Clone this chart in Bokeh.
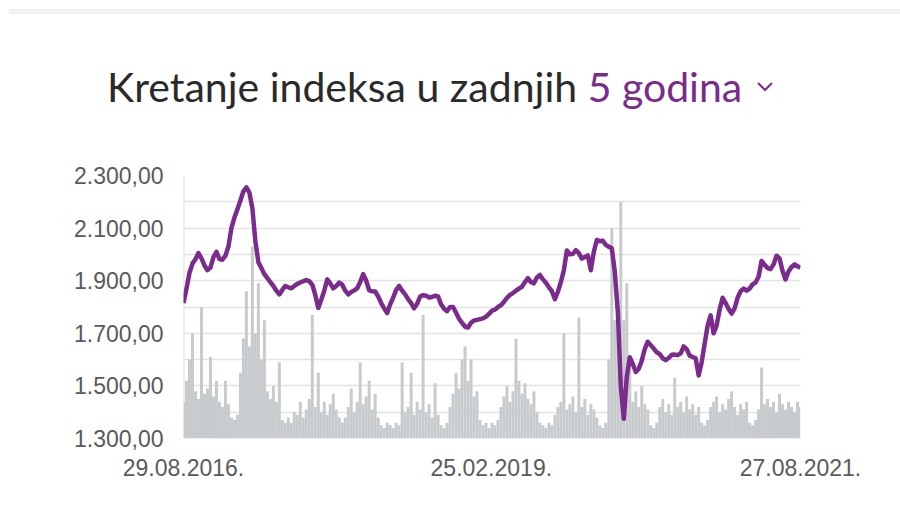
import pandas as pd
from bokeh.plotting import figure
from bokeh.layouts import column
from bokeh.models import (Range1d, FixedTicker, DatetimeTickFormatter, Span, ColumnDataSource, Div)
from bokeh.embed import file_html
from bokeh.resources import INLINE

# ---------------- data ----------------
start_date = "2016-08-29"
end_date = "2021-08-27"

index_values = [
    1815, 1870, 1930, 1965, 1982, 2005, 1985, 1958, 1940, 1950,
    1990, 2010, 1982, 1980, 1995, 2030, 2100, 2140, 2172, 2205,
    2240, 2255, 2235, 2175, 2050, 1970, 1948, 1925, 1910, 1895,
    1880, 1862, 1848, 1865, 1880, 1875, 1871, 1880, 1888, 1893,
    1898, 1902, 1898, 1885, 1846, 1796, 1828, 1862, 1905, 1890,
    1871, 1880, 1893, 1885, 1862, 1848, 1857, 1863, 1871, 1895,
    1925, 1900, 1863, 1860, 1859, 1840, 1815, 1795, 1777, 1810,
    1835, 1865, 1880, 1862, 1848, 1830, 1815, 1795, 1812, 1840,
    1845, 1843, 1836, 1838, 1843, 1840, 1810, 1793, 1784, 1800,
    1800, 1778, 1755, 1740, 1725, 1722, 1740, 1749, 1751, 1754,
    1757, 1763, 1774, 1786, 1790, 1800, 1807, 1820, 1835, 1846,
    1853, 1862, 1870, 1877, 1895, 1910, 1895, 1890, 1912, 1922,
    1905, 1892, 1875, 1860, 1830, 1858, 1895, 1940, 2015, 2000,
    2002, 2016, 2005, 1984, 1990, 1996, 1940, 2010, 2055, 2050,
    2052, 2036, 2029, 2023, 1934, 1784, 1500, 1375, 1534, 1609,
    1584, 1553, 1565, 1596, 1640, 1668, 1655, 1642, 1628, 1621,
    1605, 1598, 1606, 1618, 1619, 1617, 1624, 1650, 1640, 1615,
    1610, 1605, 1540, 1590, 1660, 1730, 1768, 1700, 1730, 1790,
    1835, 1815, 1792, 1775, 1795, 1835, 1860, 1870, 1862, 1870,
    1886, 1893, 1915, 1975, 1960, 1948, 1944, 1962, 1995, 1985,
    1937, 1905, 1935, 1952, 1962, 1955, 1949,
]

volume_values = [
    14, 22, 30, 40, 18, 15, 50, 17, 19, 31,
    16, 22, 14, 12, 22, 13, 8, 7, 9, 25,
    38, 56, 35, 73, 40, 59, 30, 45, 18, 15,
    20, 14, 29, 7, 6, 8, 6, 10, 9, 14,
    8, 11, 15, 47, 12, 25, 10, 14, 9, 13,
    17, 11, 8, 6, 8, 12, 19, 10, 14, 29,
    13, 16, 22, 11, 17, 8, 5, 4, 6, 5,
    4, 6, 5, 29, 10, 12, 25, 9, 14, 11,
    47, 10, 13, 8, 21, 9, 5, 4, 6, 12,
    17, 25, 19, 30, 35, 22, 30, 16, 18, 7,
    5, 6, 4, 6, 5, 7, 12, 16, 20, 14,
    18, 38, 22, 17, 21, 15, 13, 18, 10, 6,
    5, 4, 6, 5, 9, 12, 14, 40, 11, 13,
    16, 10, 46, 12, 15, 9, 13, 11, 8, 5,
    4, 6, 30, 80, 45, 40, 90, 45, 59, 30,
    14, 18, 12, 20, 13, 11, 5, 4, 6, 12,
    15, 10, 13, 9, 23, 12, 14, 10, 16, 11,
    13, 9, 12, 6, 5, 7, 12, 14, 16, 10,
    13, 11, 15, 18, 12, 9, 13, 11, 14, 6,
    5, 7, 11, 27, 13, 15, 12, 14, 10, 17,
    13, 11, 14, 12, 10, 14, 12,
]

y_ticks = [1300, 1500, 1700, 1900, 2100, 2300]
y_tick_labels = ["1.300,00", "1.500,00", "1.700,00", "1.900,00", "2.100,00", "2.300,00"]
y_grid_ticks = [1300, 1400, 1500, 1600, 1700, 1800, 1900, 2000, 2100, 2200, 2300]
x_tick_dates = ["2016-08-29", "2019-02-25", "2021-08-27"]
x_tick_labels = ["29.08.2016.", "25.02.2019.", "27.08.2021."]
title_main = "Kretanje indeksa u zadnjih"
title_period = "5 godina"

PURPLE = "#7a2b8c"

# ---------------- header (title row) ----------------
header_html = f"""
<div style="position:relative;width:900px;height:150px;background:white;overflow:hidden;">
  <div style="position:absolute;left:9px;top:9px;width:891px;height:5px;background:#f2f2f2;"></div>
  <div style="position:absolute;left:107px;top:62px;font-family:Lato;font-size:41px;line-height:50px;
              color:#2a2a2a;white-space:nowrap;">{title_main} <span style="color:{PURPLE};">{title_period}</span></div>
  <svg style="position:absolute;left:756px;top:80px;" width="20" height="14">
    <polyline points="2,3 9,10 16,3" fill="none" stroke="{PURPLE}" stroke-width="2"/>
  </svg>
</div>
"""
head = Div(text=header_html, width=900, height=150, styles={"margin": "0", "padding": "0"})

# ---------------- chart ----------------
t0 = pd.Timestamp(start_date)
t1 = pd.Timestamp(end_date)
line_dates = pd.date_range(t0, t1, periods=len(index_values))
vol_dates = pd.date_range(t0, t1, periods=len(volume_values))
slot_ms = (t1 - t0).total_seconds() * 1000 / (len(volume_values) - 1)

line_src = ColumnDataSource(dict(date=line_dates, value=index_values))
vol_src = ColumnDataSource(dict(date=vol_dates, vol=volume_values))

p = figure(width=900, height=364, x_axis_type="datetime",
           x_range=Range1d(t0, t1), y_range=Range1d(1300, 2300),
           output_backend="svg", toolbar_location=None,
           min_border_left=183, min_border_right=100,
           min_border_top=25, min_border_bottom=76)
p.extra_y_ranges = {"vol": Range1d(0, 100)}
p.outline_line_color = None
p.background_fill_color = "white"
p.border_fill_color = "white"

p.vbar(x="date", top="vol", bottom=0, width=slot_ms * 1.0, source=vol_src,
       y_range_name="vol", fill_color="#c8cbcd", line_color=None)
p.line(x="date", y="value", source=line_src, line_color=PURPLE, line_width=4.5,
       line_join="round")

# grid
p.xgrid.visible = False
p.ygrid.ticker = FixedTicker(ticks=y_grid_ticks)
p.ygrid.grid_line_color = "#e3e3e3"
p.ygrid.grid_line_width = 1.5
p.ygrid.level = "underlay"
p.add_layout(Span(location=t0, dimension="height", line_color="#e0e0e0",
                  line_width=2, level="underlay"))

# axes
label_font = "Liberation Sans"
p.yaxis.ticker = FixedTicker(ticks=y_ticks)
p.yaxis.major_label_overrides = {v: s for v, s in zip(y_ticks, y_tick_labels)}
p.xaxis.ticker = FixedTicker(ticks=[pd.Timestamp(d).value // 10**6 for d in x_tick_dates])
p.xaxis.major_label_overrides = {pd.Timestamp(d).value // 10**6: s
                                 for d, s in zip(x_tick_dates, x_tick_labels)}
p.xaxis.formatter = DatetimeTickFormatter(
    milliseconds="%d.%m.%Y.", seconds="%d.%m.%Y.", minsec="%d.%m.%Y.",
    minutes="%d.%m.%Y.", hourmin="%d.%m.%Y.", hours="%d.%m.%Y.",
    days="%d.%m.%Y.", months="%d.%m.%Y.", years="%d.%m.%Y.")
for ax in (p.xaxis, p.yaxis):
    ax.axis_line_color = None
    ax.major_tick_line_color = None
    ax.minor_tick_line_color = None
    ax.major_tick_in = 0
    ax.major_tick_out = 0
    ax.major_label_text_font = label_font
    ax.major_label_text_font_size = "23px"
    ax.major_label_text_color = "#5a5a5a"
p.yaxis.major_label_standoff = 20
p.xaxis.major_label_standoff = 20

layout = column(head, p, spacing=0)
open("out.html", "w").write(file_html(layout, INLINE))
